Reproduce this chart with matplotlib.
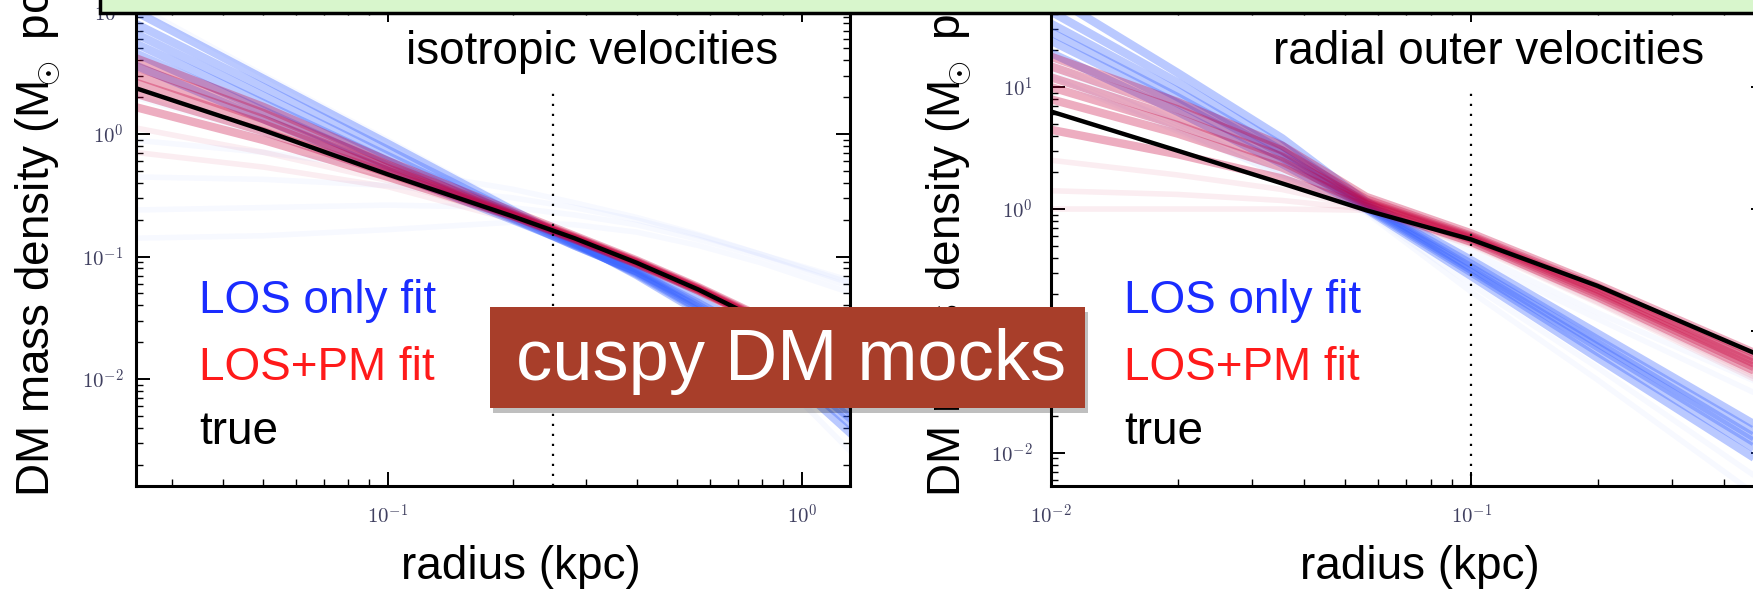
import matplotlib
matplotlib.use("Agg")
import matplotlib.pyplot as plt
import numpy as np
from matplotlib.patches import Rectangle
from matplotlib.ticker import LogLocator, FuncFormatter, NullFormatter

plt.rcParams['font.family'] = ['Liberation Sans', 'DejaVu Sans']
plt.rcParams['mathtext.fontset'] = 'cm'

# ---- data (log10 values) ----
# left panel: isotropic velocities
r_left = [-1.61, -1.3, -1.0, -0.7, -0.55, -0.4, -0.25, -0.1, 0.12]
true_left = [0.375, 0.03, -0.33, -0.67, -0.85, -1.05, -1.27, -1.52, -1.95]
los_left = [
    [1.00, 0.45, -0.08, -0.62, -0.88, -1.15, -1.45, -1.78, -2.45],
    [0.90, 0.38, -0.13, -0.64, -0.89, -1.14, -1.43, -1.74, -2.38],
    [0.82, 0.31, -0.18, -0.66, -0.90, -1.13, -1.42, -1.72, -2.33],
    [0.74, 0.25, -0.22, -0.68, -0.91, -1.12, -1.40, -1.70, -2.28],
    [0.66, 0.19, -0.26, -0.69, -0.91, -1.12, -1.38, -1.66, -2.22],
    [0.56, 0.12, -0.30, -0.70, -0.90, -1.10, -1.35, -1.62, -2.15],
]
los_left_faint = [
    [-0.05, -0.15, -0.28, -0.45, -0.56, -0.68, -0.82, -0.98, -1.22],
    [-0.35, -0.37, -0.42, -0.52, -0.60, -0.70, -0.83, -0.98, -1.20],
    [-0.62, -0.60, -0.58, -0.60, -0.66, -0.74, -0.86, -1.00, -1.25],
    [-0.85, -0.83, -0.78, -0.72, -0.74, -0.80, -0.91, -1.05, -1.30],
    [0.30, 0.00, -0.32, -0.68, -0.87, -1.08, -1.33, -1.60, -2.10],
    [1.05, 0.48, -0.05, -0.60, -0.88, -1.16, -1.48, -1.85, -2.60],
]
pm_left = [
    [0.62, 0.22, -0.22, -0.63, -0.83, -1.03, -1.25, -1.49, -1.93],
    [0.55, 0.17, -0.25, -0.645, -0.84, -1.04, -1.26, -1.50, -1.94],
    [0.48, 0.12, -0.28, -0.655, -0.845, -1.045, -1.265, -1.51, -1.95],
    [0.42, 0.08, -0.30, -0.66, -0.85, -1.05, -1.27, -1.515, -1.955],
    [0.33, 0.02, -0.32, -0.665, -0.855, -1.055, -1.275, -1.52, -1.96],
    [0.22, -0.05, -0.35, -0.67, -0.86, -1.06, -1.28, -1.525, -1.97],
]
pm_left_faint = [
    [0.05, -0.15, -0.38, -0.68, -0.86, -1.06, -1.28, -1.53, -1.98],
    [-0.15, -0.27, -0.43, -0.70, -0.87, -1.07, -1.29, -1.54, -1.99],
]

# right panel: radial outer velocities
r_right = [-2.0, -1.7, -1.45, -1.25, -1.0, -0.7, -0.3]
true_right = [0.80, 0.48, 0.21, -0.01, -0.25, -0.63, -1.22]
los_right = [
    [1.75, 1.12, 0.58, 0.06, -0.42, -1.02, -1.82],
    [1.62, 1.04, 0.52, 0.04, -0.45, -1.07, -1.88],
    [1.52, 0.97, 0.48, 0.03, -0.48, -1.10, -1.93],
    [1.45, 0.92, 0.45, 0.02, -0.50, -1.13, -1.97],
    [1.38, 0.87, 0.42, 0.01, -0.52, -1.17, -2.02],
    [1.28, 0.80, 0.37, 0.00, -0.55, -1.22, -2.10],
]
los_right_faint = [
    [1.15, 0.70, 0.30, -0.02, -0.62, -1.30, -2.25],
    [1.08, 0.64, 0.28, 0.00, -0.40, -0.90, -1.55],
    [1.20, 0.72, 0.33, 0.02, -0.35, -0.85, -1.45],
    [1.10, 0.66, 0.27, -0.03, -0.68, -1.40, -2.40],
]
pm_right = [
    [1.25, 0.88, 0.52, 0.10, -0.20, -0.62, -1.22],
    [1.17, 0.82, 0.48, 0.08, -0.22, -0.64, -1.26],
    [1.08, 0.75, 0.43, 0.06, -0.23, -0.66, -1.29],
    [1.00, 0.69, 0.39, 0.05, -0.24, -0.68, -1.31],
    [0.90, 0.62, 0.34, 0.04, -0.25, -0.70, -1.34],
    [0.65, 0.45, 0.25, 0.02, -0.27, -0.72, -1.37],
]
pm_right_faint = [
    [0.40, 0.28, 0.16, 0.01, -0.28, -0.74, -1.40],
    [0.15, 0.12, 0.07, 0.00, -0.29, -0.76, -1.42],
    [0.00, 0.00, 0.00, -0.01, -0.30, -0.77, -1.44],
]

r_cut_left = 0.25
r_cut_right = 0.1

W, H = 1753, 589
BLUE = '#2f5cff'
RED = '#c8003c'


def fx(x):
    return x / W


def fy(y):
    return 1 - y / H


def draw_panel(ax, r, true, los, los_faint, pm, pm_faint, r_cut, xlim, ylim):
    rr = 10 ** np.array(r)
    for v in los_faint:
        ax.plot(rr, 10 ** np.array(v), color=BLUE, lw=4, alpha=0.035, solid_capstyle='butt')
    for v in los:
        ax.plot(rr, 10 ** np.array(v), color=BLUE, lw=6, alpha=0.33, solid_capstyle='butt')
    for v in pm_faint:
        ax.plot(rr, 10 ** np.array(v), color=RED, lw=4, alpha=0.07, solid_capstyle='butt')
    for v in pm:
        ax.plot(rr, 10 ** np.array(v), color=RED, lw=6, alpha=0.32, solid_capstyle='butt')
    ax.plot(rr, 10 ** np.array(true), color='black', lw=3.2)
    ax.axvline(r_cut, ymax=0.83, color='black', lw=1.6, ls=(0, (1, 3.5)))

    ax.set_xscale('log')
    ax.set_yscale('log')
    ax.set_xlim(xlim)
    ax.set_ylim(ylim)

    fmt = FuncFormatter(lambda v, p: r'$10^{%d}$' % int(round(np.log10(v))))
    for axis in (ax.xaxis, ax.yaxis):
        axis.set_major_locator(LogLocator(base=10, numticks=10))
        axis.set_minor_locator(LogLocator(base=10, subs=np.arange(2, 10), numticks=20))
        axis.set_major_formatter(fmt)
        axis.set_minor_formatter(NullFormatter())
    ax.tick_params(which='both', direction='in', top=True, right=True,
                   colors='black', labelcolor='#404060', labelsize=15)
    ax.tick_params(which='major', length=10, width=1.4)
    ax.tick_params(which='minor', length=5, width=1.0)
    ax.tick_params(axis='x', pad=13)
    for s in ax.spines.values():
        s.set_linewidth(2.2)


fig = plt.figure(figsize=(W / 100, H / 100), dpi=100)

ax1 = fig.add_axes([fx(136), fy(486), (850 - 136) / W, (486 - 8) / H])
draw_panel(ax1, r_left, true_left, los_left, los_left_faint, pm_left, pm_left_faint,
           r_cut_left, (10 ** -1.609, 10 ** 0.116), (10 ** -2.873, 10 ** 1.029))
ax1.tick_params(axis='y', pad=9)

ax2 = fig.add_axes([fx(1051), fy(486), (1765 - 1051) / W, (486 - 8) / H])
draw_panel(ax2, r_right, true_right, los_right, los_right_faint, pm_right, pm_right_faint,
           r_cut_right, (0.01, 0.5), (10 ** -2.272, 10 ** 1.649))
ax2.tick_params(axis='y', pad=13)

fs = 33
ylab = r'DM mass density (M$_{\!\!\!\odot}$ pc$^{-3}$)'
for x0, xc, leg_x, title, tc in [(50, 521, 199, 'isotropic velocities', 592),
                                 (961, 1420, 1124, 'radial outer velocities', 1489)]:
    fig.text(fx(x0), fy(497), ylab, rotation=90, rotation_mode='anchor',
             ha='left', va='baseline', fontsize=fs)
    fig.text(fx(xc), fy(579), 'radius (kpc)', ha='center', va='baseline', fontsize=fs)
    fig.text(fx(tc), fy(64), title, ha='center', va='baseline', fontsize=fs)
    fig.text(fx(leg_x), fy(313), 'LOS only fit', color='#1a2cff', fontsize=fs, va='baseline')
    fig.text(fx(leg_x), fy(380), 'LOS+PM fit', color='#ff1a1a', fontsize=fs, va='baseline')
    fig.text(fx(leg_x), fy(444), 'true', color='black', fontsize=fs, va='baseline')

# green banner along the top
fig.add_artist(Rectangle((fx(100), fy(13)), (1770 - 100) / W, 40 / H,
                         transform=fig.transFigure, facecolor='#d8f6cc',
                         edgecolor='black', lw=2.5, zorder=5))

# "cuspy DM mocks" label box with a soft shadow
fig.add_artist(Rectangle((fx(493), fy(413)), (1085 - 490) / W, (408 - 307) / H,
                         transform=fig.transFigure, facecolor='black', alpha=0.25,
                         edgecolor='none', zorder=5))
fig.add_artist(Rectangle((fx(490), fy(408)), (1085 - 490) / W, (408 - 307) / H,
                         transform=fig.transFigure, facecolor='#a83e2a',
                         edgecolor='none', zorder=6))
fig.text(fx(791), fy(380), 'cuspy DM mocks', color='white', fontsize=52,
         ha='center', va='baseline', zorder=7)

fig.savefig('out.png', dpi=100)
